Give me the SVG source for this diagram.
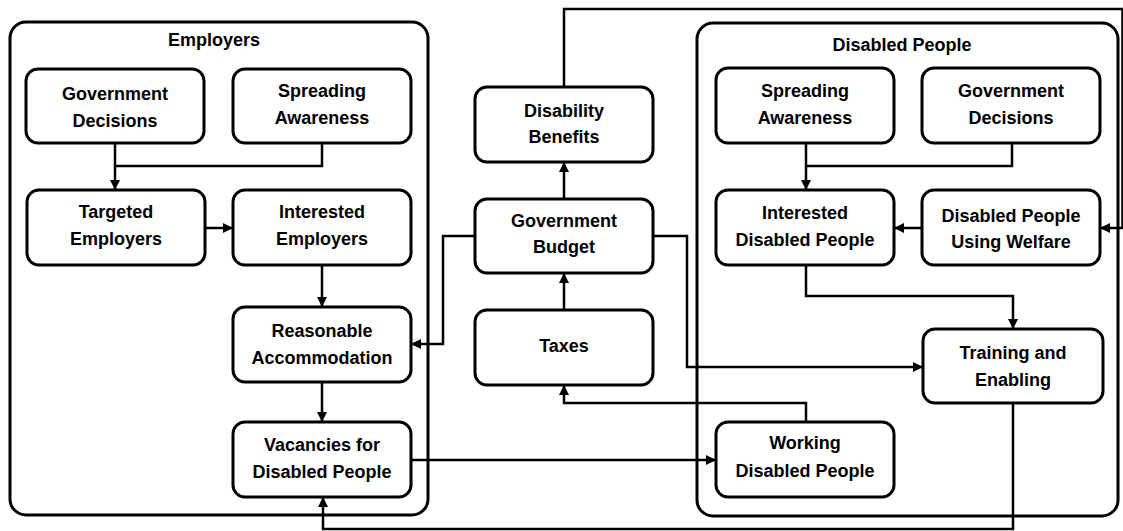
<svg xmlns="http://www.w3.org/2000/svg" width="1123" height="531" viewBox="0 0 1123 531">
<defs>
<marker id="ah" markerWidth="10" markerHeight="10" viewBox="0 0 10 10" refX="10" refY="5" orient="auto" markerUnits="userSpaceOnUse">
<path d="M0,0 L10,5 L0,10 Z" fill="#000"/>
</marker>
</defs>
<style>
.box{fill:#fff;stroke:#000;stroke-width:3}
.cont{fill:none;stroke:#000;stroke-width:3}
.t{font-family:"Liberation Sans",Arial,sans-serif;font-weight:bold;font-size:18px;fill:#000;text-anchor:middle}
.c{fill:none;stroke:#000;stroke-width:2.5}
.a{marker-end:url(#ah)}
</style>
<rect width="1123" height="531" fill="#fff"/>
<g id="employers">
<rect class="cont" x="10" y="22" width="418" height="493" rx="16"/>
<text class="t" x="214" y="46">Employers</text>
</g>
<g id="disabled-people">
<rect class="cont" x="697" y="23" width="421" height="493" rx="16"/>
<text class="t" x="902" y="51">Disabled People</text>
</g>
<g id="connectors">
<path class="c a" d="M115,143 V190"/>
<path class="c" d="M322,143 V166 H115"/>
<path class="c a" d="M205,228 H233"/>
<path class="c a" d="M322,265 V307"/>
<path class="c a" d="M322,382 V422"/>
<path class="c a" d="M411,460 H716"/>
<path class="c a" d="M1013,403 V529 H323 V497"/>
<path class="c a" d="M564,199 V162"/>
<path class="c a" d="M564,310 V273"/>
<path class="c a" d="M475,236 H443 V344 H411"/>
<path class="c a" d="M653,236 H687 V367 H923"/>
<path class="c a" d="M806,422 V403 H564 V385"/>
<path class="c a" d="M564,87 V9 H1122.5 V228 H1100"/>
<path class="c a" d="M806,143 V190"/>
<path class="c" d="M1012,143 V166 H806"/>
<path class="c a" d="M922,228 H894"/>
<path class="c a" d="M806,265 V296 H1013 V329"/>
</g>
<g id="emp-gov-decisions">
<rect class="box" x="26" y="69" width="178" height="74" rx="12"/>
<text class="t" x="115" y="100">Government</text>
<text class="t" x="115" y="127">Decisions</text>
</g>
<g id="emp-spreading-awareness">
<rect class="box" x="233" y="69" width="178" height="74" rx="12"/>
<text class="t" x="322" y="97">Spreading</text>
<text class="t" x="322" y="124">Awareness</text>
</g>
<g id="targeted-employers">
<rect class="box" x="27" y="190" width="178" height="75" rx="12"/>
<text class="t" x="116" y="218">Targeted</text>
<text class="t" x="116" y="245">Employers</text>
</g>
<g id="interested-employers">
<rect class="box" x="233" y="190" width="178" height="75" rx="12"/>
<text class="t" x="322" y="218">Interested</text>
<text class="t" x="322" y="245">Employers</text>
</g>
<g id="reasonable-accommodation">
<rect class="box" x="233" y="307" width="178" height="75" rx="12"/>
<text class="t" x="322" y="337">Reasonable</text>
<text class="t" x="322" y="364">Accommodation</text>
</g>
<g id="vacancies">
<rect class="box" x="233" y="422" width="178" height="75" rx="12"/>
<text class="t" x="322" y="451">Vacancies for</text>
<text class="t" x="322" y="478">Disabled People</text>
</g>
<g id="disability-benefits">
<rect class="box" x="475" y="87" width="178" height="75" rx="12"/>
<text class="t" x="564" y="117">Disability</text>
<text class="t" x="564" y="143">Benefits</text>
</g>
<g id="government-budget">
<rect class="box" x="475" y="199" width="178" height="74" rx="12"/>
<text class="t" x="564" y="227">Government</text>
<text class="t" x="564" y="253">Budget</text>
</g>
<g id="taxes">
<rect class="box" x="475" y="310" width="178" height="75" rx="12"/>
<text class="t" x="564" y="352">Taxes</text>
</g>
<g id="dp-spreading-awareness">
<rect class="box" x="716" y="68" width="178" height="75" rx="12"/>
<text class="t" x="805" y="97">Spreading</text>
<text class="t" x="805" y="124">Awareness</text>
</g>
<g id="dp-gov-decisions">
<rect class="box" x="922" y="68" width="178" height="75" rx="12"/>
<text class="t" x="1011" y="97">Government</text>
<text class="t" x="1011" y="124">Decisions</text>
</g>
<g id="interested-disabled-people">
<rect class="box" x="716" y="190" width="178" height="75" rx="12"/>
<text class="t" x="805" y="219">Interested</text>
<text class="t" x="805" y="246">Disabled People</text>
</g>
<g id="disabled-people-using-welfare">
<rect class="box" x="922" y="190" width="178" height="75" rx="12"/>
<text class="t" x="1011" y="222">Disabled People</text>
<text class="t" x="1011" y="248">Using Welfare</text>
</g>
<g id="training-enabling">
<rect class="box" x="923" y="329" width="180" height="74" rx="12"/>
<text class="t" x="1013" y="359">Training and</text>
<text class="t" x="1013" y="386">Enabling</text>
</g>
<g id="working-disabled-people">
<rect class="box" x="716" y="422" width="178" height="75" rx="12"/>
<text class="t" x="805" y="449">Working</text>
<text class="t" x="805" y="477">Disabled People</text>
</g>
</svg>
